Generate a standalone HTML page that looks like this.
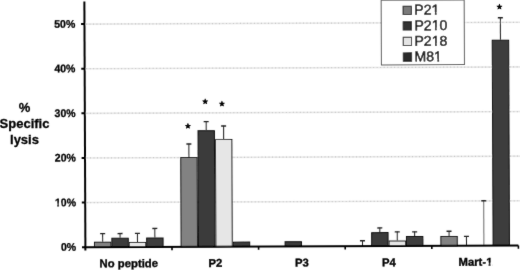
<!DOCTYPE html><html><head><meta charset="utf-8"><style>html,body{margin:0;padding:0;background:#fff;width:520px;height:270px;overflow:hidden}svg{display:block}</style></head><body>
<svg width="520" height="270" viewBox="0 0 520 270">
<defs><filter id="soft" filterUnits="userSpaceOnUse" x="0" y="0" width="520" height="270"><feConvolveMatrix order="3" kernelMatrix="0.015 0.06 0.015 0.06 0.70 0.06 0.015 0.06 0.015" divisor="1" edgeMode="none"/></filter></defs>
<rect width="520" height="270" fill="#fff"/>
<g filter="url(#soft)">
<g transform="rotate(-0.24 85.4 247.2)">
<line x1="86.9" y1="202.58" x2="530" y2="202.58" stroke="#e8e8e8" stroke-width="1.6"/>
<line x1="86.9" y1="202.58" x2="530" y2="202.58" stroke="#c6c6c6" stroke-width="1.2" stroke-dasharray="1 2.5"/>
<line x1="86.9" y1="157.96" x2="530" y2="157.96" stroke="#e8e8e8" stroke-width="1.6"/>
<line x1="86.9" y1="157.96" x2="530" y2="157.96" stroke="#c6c6c6" stroke-width="1.2" stroke-dasharray="1 2.5"/>
<line x1="86.9" y1="113.34" x2="530" y2="113.34" stroke="#e8e8e8" stroke-width="1.6"/>
<line x1="86.9" y1="113.34" x2="530" y2="113.34" stroke="#c6c6c6" stroke-width="1.2" stroke-dasharray="1 2.5"/>
<line x1="86.9" y1="68.72" x2="530" y2="68.72" stroke="#e8e8e8" stroke-width="1.6"/>
<line x1="86.9" y1="68.72" x2="530" y2="68.72" stroke="#c6c6c6" stroke-width="1.2" stroke-dasharray="1 2.5"/>
<line x1="86.9" y1="24.10" x2="530" y2="24.10" stroke="#e8e8e8" stroke-width="1.6"/>
<line x1="86.9" y1="24.10" x2="530" y2="24.10" stroke="#c6c6c6" stroke-width="1.2" stroke-dasharray="1 2.5"/>
<line x1="102.70" y1="233.37" x2="102.70" y2="241.85" stroke="#222" stroke-width="1"/>
<line x1="100.20" y1="233.67" x2="105.20" y2="233.67" stroke="#222" stroke-width="1.3"/>
<rect x="94.50" y="242.35" width="16.40" height="4.85" fill="#828282" stroke="#111" stroke-width="1"/>
<line x1="120.10" y1="233.37" x2="120.10" y2="237.83" stroke="#222" stroke-width="1"/>
<line x1="117.60" y1="233.67" x2="122.60" y2="233.67" stroke="#222" stroke-width="1.3"/>
<rect x="111.90" y="238.33" width="16.40" height="8.87" fill="#3a3a3a" stroke="#111" stroke-width="1"/>
<line x1="137.50" y1="233.37" x2="137.50" y2="242.20" stroke="#222" stroke-width="1"/>
<line x1="135.00" y1="233.67" x2="140.00" y2="233.67" stroke="#222" stroke-width="1.3"/>
<rect x="129.30" y="242.70" width="16.40" height="4.50" fill="#e6e6e6" stroke="#111" stroke-width="1"/>
<line x1="154.90" y1="228.46" x2="154.90" y2="237.83" stroke="#222" stroke-width="1"/>
<line x1="152.40" y1="228.76" x2="157.40" y2="228.76" stroke="#222" stroke-width="1.3"/>
<rect x="146.70" y="238.33" width="16.40" height="8.87" fill="#3c3c3c" stroke="#111" stroke-width="1"/>
<line x1="189.30" y1="144.13" x2="189.30" y2="157.51" stroke="#222" stroke-width="1"/>
<line x1="186.80" y1="144.43" x2="191.80" y2="144.43" stroke="#222" stroke-width="1.3"/>
<rect x="181.10" y="158.01" width="16.40" height="89.19" fill="#828282" stroke="#111" stroke-width="1"/>
<line x1="206.70" y1="121.82" x2="206.70" y2="130.74" stroke="#222" stroke-width="1"/>
<line x1="204.20" y1="122.12" x2="209.20" y2="122.12" stroke="#222" stroke-width="1.3"/>
<rect x="198.50" y="131.24" width="16.40" height="115.96" fill="#3a3a3a" stroke="#111" stroke-width="1"/>
<line x1="224.10" y1="126.28" x2="224.10" y2="139.67" stroke="#222" stroke-width="1"/>
<line x1="221.60" y1="126.58" x2="226.60" y2="126.58" stroke="#222" stroke-width="1.3"/>
<rect x="215.90" y="140.17" width="16.40" height="107.03" fill="#e6e6e6" stroke="#111" stroke-width="1"/>
<rect x="233.30" y="242.79" width="16.40" height="4.41" fill="#3c3c3c" stroke="#111" stroke-width="1"/>
<rect x="285.10" y="242.57" width="16.40" height="4.63" fill="#3a3a3a" stroke="#111" stroke-width="1"/>
<line x1="362.50" y1="241.62" x2="362.50" y2="247.20" stroke="#222" stroke-width="1"/>
<line x1="360.00" y1="241.92" x2="365.00" y2="241.92" stroke="#222" stroke-width="1.3"/>
<line x1="379.90" y1="228.91" x2="379.90" y2="233.37" stroke="#222" stroke-width="1"/>
<line x1="377.40" y1="229.21" x2="382.40" y2="229.21" stroke="#222" stroke-width="1.3"/>
<rect x="371.70" y="233.87" width="16.40" height="13.33" fill="#3a3a3a" stroke="#111" stroke-width="1"/>
<line x1="397.30" y1="232.92" x2="397.30" y2="241.85" stroke="#222" stroke-width="1"/>
<line x1="394.80" y1="233.22" x2="399.80" y2="233.22" stroke="#222" stroke-width="1.3"/>
<rect x="389.10" y="242.35" width="16.40" height="4.85" fill="#e6e6e6" stroke="#111" stroke-width="1"/>
<line x1="414.70" y1="232.92" x2="414.70" y2="237.38" stroke="#222" stroke-width="1"/>
<line x1="412.20" y1="233.22" x2="417.20" y2="233.22" stroke="#222" stroke-width="1.3"/>
<rect x="406.50" y="237.88" width="16.40" height="9.32" fill="#3c3c3c" stroke="#111" stroke-width="1"/>
<line x1="449.10" y1="232.48" x2="449.10" y2="237.61" stroke="#222" stroke-width="1"/>
<line x1="446.60" y1="232.78" x2="451.60" y2="232.78" stroke="#222" stroke-width="1.3"/>
<rect x="440.90" y="238.11" width="16.40" height="9.09" fill="#828282" stroke="#111" stroke-width="1"/>
<line x1="466.50" y1="237.61" x2="466.50" y2="247.20" stroke="#222" stroke-width="1"/>
<line x1="464.00" y1="237.91" x2="469.00" y2="237.91" stroke="#222" stroke-width="1.3"/>
<line x1="483.90" y1="202.13" x2="483.90" y2="247.20" stroke="#6a6a6a" stroke-width="1"/>
<line x1="481.40" y1="202.43" x2="486.40" y2="202.43" stroke="#222" stroke-width="1.3"/>
<line x1="501.30" y1="19.19" x2="501.30" y2="41.50" stroke="#222" stroke-width="1"/>
<line x1="498.80" y1="19.49" x2="503.80" y2="19.49" stroke="#222" stroke-width="1.3"/>
<rect x="493.10" y="42.00" width="16.40" height="205.20" fill="#3c3c3c" stroke="#111" stroke-width="1"/>
<line x1="85.4" y1="1.5" x2="85.4" y2="250.5" stroke="#000" stroke-width="2"/>
<line x1="84.4" y1="247.2" x2="518.4" y2="247.2" stroke="#000" stroke-width="2"/>
<line x1="82" y1="247.20" x2="85.4" y2="247.20" stroke="#000" stroke-width="2"/>
<g transform="translate(76.20 250.70) scale(0.955 1)"><text id="t1" x="0" y="0" font-family="Liberation Sans, Arial, sans-serif" font-weight="bold" text-anchor="end" font-size="11" stroke="#000" stroke-width="0.3">0%</text></g>
<line x1="82" y1="202.58" x2="85.4" y2="202.58" stroke="#000" stroke-width="2"/>
<g transform="translate(76.20 206.08) scale(0.955 1)"><text id="t2" x="0" y="0" font-family="Liberation Sans, Arial, sans-serif" font-weight="bold" text-anchor="end" font-size="11" stroke="#000" stroke-width="0.3">10%</text><rect x="-22.03" y="-2.57" width="2.37" height="3.37" fill="#fff"/><rect x="-17.74" y="-2.57" width="2.23" height="3.37" fill="#fff"/></g>
<line x1="82" y1="157.96" x2="85.4" y2="157.96" stroke="#000" stroke-width="2"/>
<g transform="translate(76.20 161.46) scale(0.955 1)"><text id="t3" x="0" y="0" font-family="Liberation Sans, Arial, sans-serif" font-weight="bold" text-anchor="end" font-size="11" stroke="#000" stroke-width="0.3">20%</text></g>
<line x1="82" y1="113.34" x2="85.4" y2="113.34" stroke="#000" stroke-width="2"/>
<g transform="translate(76.20 116.84) scale(0.955 1)"><text id="t4" x="0" y="0" font-family="Liberation Sans, Arial, sans-serif" font-weight="bold" text-anchor="end" font-size="11" stroke="#000" stroke-width="0.3">30%</text></g>
<line x1="82" y1="68.72" x2="85.4" y2="68.72" stroke="#000" stroke-width="2"/>
<g transform="translate(76.20 72.22) scale(0.955 1)"><text id="t5" x="0" y="0" font-family="Liberation Sans, Arial, sans-serif" font-weight="bold" text-anchor="end" font-size="11" stroke="#000" stroke-width="0.3">40%</text></g>
<line x1="82" y1="24.10" x2="85.4" y2="24.10" stroke="#000" stroke-width="2"/>
<g transform="translate(76.20 27.60) scale(0.955 1)"><text id="t6" x="0" y="0" font-family="Liberation Sans, Arial, sans-serif" font-weight="bold" text-anchor="end" font-size="11" stroke="#000" stroke-width="0.3">50%</text></g>
<line x1="172.00" y1="247.2" x2="172.00" y2="250.5" stroke="#000" stroke-width="1.6"/>
<line x1="258.60" y1="247.2" x2="258.60" y2="250.5" stroke="#000" stroke-width="1.6"/>
<line x1="345.20" y1="247.2" x2="345.20" y2="250.5" stroke="#000" stroke-width="1.6"/>
<line x1="431.80" y1="247.2" x2="431.80" y2="250.5" stroke="#000" stroke-width="1.6"/>
<line x1="518.40" y1="247.2" x2="518.40" y2="250.5" stroke="#000" stroke-width="1.6"/>
<g transform="translate(128.70 267.40)"><text id="t7" x="0" y="0" font-family="Liberation Sans, Arial, sans-serif" font-weight="bold" text-anchor="middle" font-size="11.3" stroke="#000" stroke-width="0.35">No peptide</text></g>
<g transform="translate(215.30 267.40)"><text id="t8" x="0" y="0" font-family="Liberation Sans, Arial, sans-serif" font-weight="bold" text-anchor="middle" font-size="11.3" stroke="#000" stroke-width="0.35">P2</text></g>
<g transform="translate(301.90 267.40)"><text id="t9" x="0" y="0" font-family="Liberation Sans, Arial, sans-serif" font-weight="bold" text-anchor="middle" font-size="11.3" stroke="#000" stroke-width="0.35">P3</text></g>
<g transform="translate(388.80 267.40)"><text id="t10" x="0" y="0" font-family="Liberation Sans, Arial, sans-serif" font-weight="bold" text-anchor="middle" font-size="11.3" stroke="#000" stroke-width="0.35">P4</text></g>
<g transform="translate(475.40 267.40)"><text id="t11" x="0" y="0" font-family="Liberation Sans, Arial, sans-serif" font-weight="bold" text-anchor="middle" font-size="11.3" stroke="#000" stroke-width="0.35">Mart-1</text><rect x="10.67" y="-2.63" width="2.40" height="3.43" fill="#fff"/><rect x="15.07" y="-2.63" width="2.26" height="3.43" fill="#fff"/></g>
<text x="188.4" y="128.6" text-anchor="middle" font-family="DejaVu Sans, sans-serif" font-size="6.6" stroke="#000" stroke-width="0.7" stroke-linejoin="round">&#9733;</text>
<text x="205.7" y="104.2" text-anchor="middle" font-family="DejaVu Sans, sans-serif" font-size="6.6" stroke="#000" stroke-width="0.7" stroke-linejoin="round">&#9733;</text>
<text x="222.6" y="106.5" text-anchor="middle" font-family="DejaVu Sans, sans-serif" font-size="6.6" stroke="#000" stroke-width="0.7" stroke-linejoin="round">&#9733;</text>
<text x="500.4" y="10.7" text-anchor="middle" font-family="DejaVu Sans, sans-serif" font-size="6.6" stroke="#000" stroke-width="0.7" stroke-linejoin="round">&#9733;</text>
<rect x="382.2" y="1.6" width="83" height="64.6" fill="#fff" stroke="#555" stroke-width="1"/>
<rect x="404.1" y="7.50" width="8.3" height="8.3" fill="#7a7a7a" stroke="#111" stroke-width="1"/>
<g transform="translate(415.30 16.00)"><text id="t12" x="0" y="0" font-family="Liberation Sans, Arial, sans-serif" font-size="14.1" stroke="#000" stroke-width="0.4">P21</text><rect x="17.61" y="-2.55" width="2.92" height="3.35" fill="#fff"/><rect x="22.28" y="-2.55" width="2.81" height="3.35" fill="#fff"/></g>
<rect x="404.1" y="23.07" width="8.3" height="8.3" fill="#303030" stroke="#111" stroke-width="1"/>
<g transform="translate(415.30 31.57)"><text id="t13" x="0" y="0" font-family="Liberation Sans, Arial, sans-serif" font-size="14.1" stroke="#000" stroke-width="0.4">P210</text><rect x="17.61" y="-2.55" width="2.92" height="3.35" fill="#fff"/><rect x="22.28" y="-2.55" width="2.81" height="3.35" fill="#fff"/></g>
<rect x="404.1" y="38.64" width="8.3" height="8.3" fill="#e4e4e4" stroke="#111" stroke-width="1"/>
<g transform="translate(415.30 47.14)"><text id="t14" x="0" y="0" font-family="Liberation Sans, Arial, sans-serif" font-size="14.1" stroke="#000" stroke-width="0.4">P218</text><rect x="17.61" y="-2.55" width="2.92" height="3.35" fill="#fff"/><rect x="22.28" y="-2.55" width="2.81" height="3.35" fill="#fff"/></g>
<rect x="404.1" y="54.21" width="8.3" height="8.3" fill="#2a2a2a" stroke="#111" stroke-width="1"/>
<g transform="translate(415.30 62.71)"><text id="t15" x="0" y="0" font-family="Liberation Sans, Arial, sans-serif" font-size="14.1" stroke="#000" stroke-width="0.4">M81</text><rect x="19.95" y="-2.55" width="2.92" height="3.35" fill="#fff"/><rect x="24.62" y="-2.55" width="2.81" height="3.35" fill="#fff"/></g>
</g>
<text font-family="Liberation Sans, Arial, sans-serif" font-weight="bold" font-size="13" text-anchor="middle" stroke="#000" stroke-width="0.3">
<tspan x="24.5" y="112.2">%</tspan><tspan x="24.5" y="128">Specific</tspan><tspan x="24.5" y="144">lysis</tspan></text>
</g></svg></body></html>
